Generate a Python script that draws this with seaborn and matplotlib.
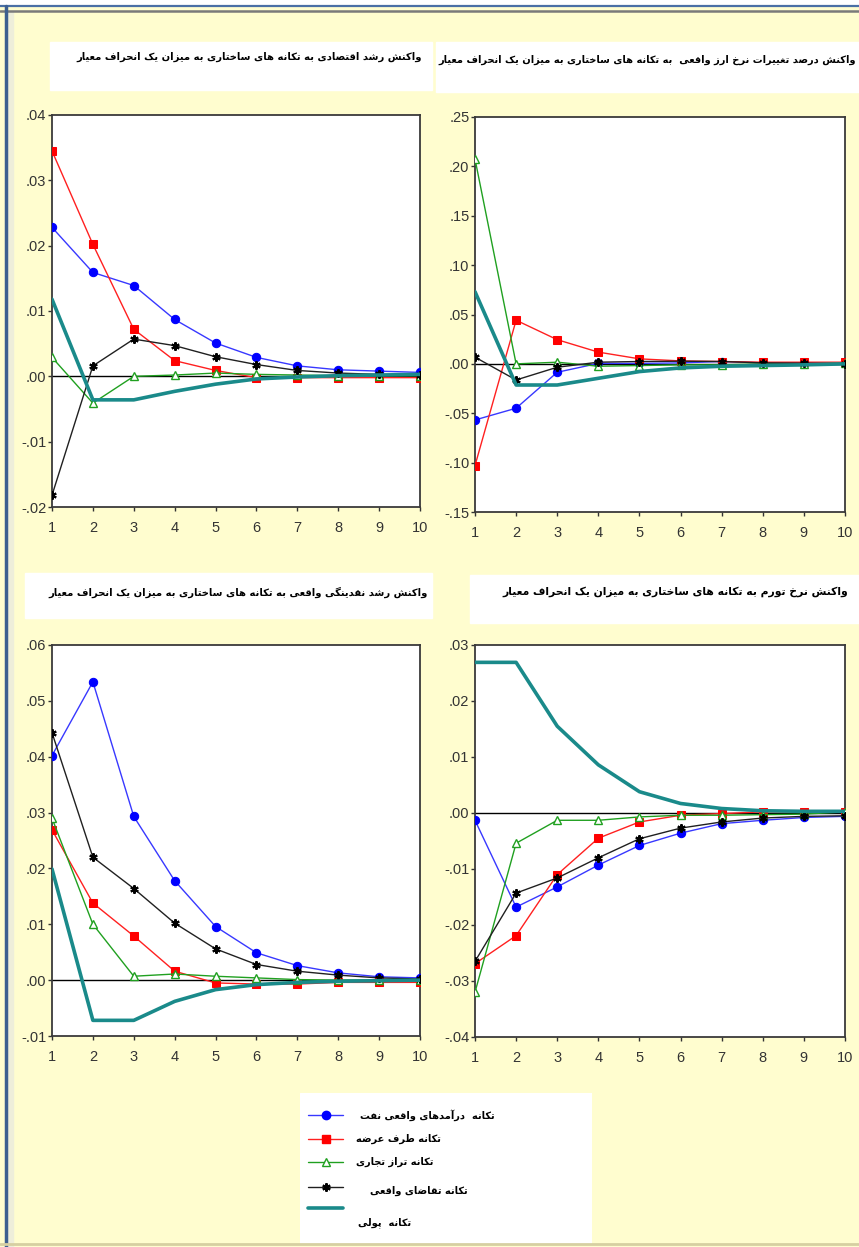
import matplotlib
matplotlib.use("Agg")
import matplotlib.pyplot as plt
import seaborn as sns
from matplotlib.lines import Line2D
from matplotlib.patches import Rectangle
from matplotlib.ticker import FuncFormatter

# ---- data ----
periods = list(range(1, 11))

shock_labels = ["تکانه  درآمدهای واقعی نفت", "تکانه طرف عرضه", "تکانه تراز تجاری",
                "تکانه تقاضای واقعی", "تکانه  پولی"]

title_growth = "واکنش رشد اقتصادی به تکانه های ساختاری به میزان یک انحراف معیار"
title_fx = "واکنش درصد تغییرات نرخ ارز واقعی  به تکانه های ساختاری به میزان یک انحراف معیار"
title_money = "واکنش رشد نقدینگی واقعی به تکانه های ساختاری به میزان یک انحراف معیار"
title_infl = "واکنش نرخ تورم به تکانه های ساختاری به میزان یک انحراف معیار"

# economic growth
growth_oil = [0.0228, 0.0159, 0.0139, 0.0087, 0.0051, 0.0029, 0.0016, 0.0010, 0.0008, 0.0006]
growth_supply = [0.0345, 0.0202, 0.0072, 0.0024, 0.0009, -0.0002, -0.0002, -0.0002, -0.0002, -0.0002]
growth_trade = [0.0029, -0.0041, 0.0000, 0.0002, 0.0005, 0.0003, 0.0002, 0.0001, 0.0001, 0.0001]
growth_demand = [-0.0182, 0.0016, 0.0057, 0.0047, 0.0030, 0.0018, 0.0009, 0.0005, 0.0003, 0.0002]
growth_money = [0.0118, -0.0036, -0.0036, -0.0023, -0.0012, -0.0004, -0.0001, 0.0001, 0.0002, 0.0003]

# real exchange rate change
fx_oil = [-0.0568, -0.0449, -0.0085, 0.0005, 0.0005, 0.0010, 0.0024, 0.0010, 0.0010, 0.0010]
fx_supply = [-0.1030, 0.0442, 0.0245, 0.0119, 0.0051, 0.0030, 0.0024, 0.0017, 0.0017, 0.0017]
fx_trade = [0.2075, 0.0000, 0.0017, -0.0024, -0.0017, -0.0010, -0.0010, 0.0000, 0.0000, 0.0007]
fx_demand = [0.0068, -0.0163, -0.0034, 0.0017, 0.0024, 0.0027, 0.0024, 0.0010, 0.0007, 0.0000]
fx_money = [0.0731, -0.0214, -0.0214, -0.0146, -0.0078, -0.0041, -0.0024, -0.0017, -0.0010, 0.0000]

# real liquidity growth
money_oil = [0.0402, 0.0534, 0.0293, 0.0178, 0.0096, 0.0049, 0.0026, 0.0013, 0.0006, 0.0004]
money_supply = [0.0269, 0.0138, 0.0079, 0.0016, -0.0005, -0.0007, -0.0007, -0.0004, -0.0004, -0.0004]
money_trade = [0.0290, 0.0100, 0.0007, 0.0011, 0.0007, 0.0004, 0.0001, 0.0000, 0.0000, 0.0000]
money_demand = [0.0443, 0.0220, 0.0164, 0.0102, 0.0056, 0.0028, 0.0016, 0.0009, 0.0004, 0.0002]
money_money = [0.0199, -0.0072, -0.0072, -0.0038, -0.0017, -0.0008, -0.0004, -0.0002, -0.0001, 0.0000]

# inflation
infl_oil = [-0.0013, -0.0168, -0.0132, -0.0093, -0.0058, -0.0036, -0.0019, -0.0013, -0.0008, -0.0006]
infl_supply = [-0.0269, -0.0219, -0.0110, -0.0045, -0.0016, -0.0004, -0.0001, 0.0002, 0.0002, 0.0002]
infl_trade = [-0.0320, -0.0054, -0.0013, -0.0013, -0.0007, -0.0004, -0.0004, -0.0003, -0.0002, 0.0002]
infl_demand = [-0.0265, -0.0143, -0.0116, -0.0080, -0.0046, -0.0027, -0.0016, -0.0009, -0.0006, -0.0005]
infl_money = [0.0269, 0.0269, 0.0155, 0.0086, 0.0038, 0.0017, 0.0008, 0.0004, 0.0003, 0.0003]

growth_ticks = [-0.02, -0.01, 0.0, 0.01, 0.02, 0.03, 0.04]
fx_ticks = [-0.15, -0.10, -0.05, 0.0, 0.05, 0.10, 0.15, 0.20, 0.25]
money_ticks = [-0.01, 0.0, 0.01, 0.02, 0.03, 0.04, 0.05, 0.06]
infl_ticks = [-0.04, -0.03, -0.02, -0.01, 0.0, 0.01, 0.02, 0.03]

# ---- minimal Persian shaping (matplotlib draws no joined RTL text by itself) ----
DUAL = {'ب': 0xFE8F, 'ت': 0xFE95, 'ث': 0xFE99, 'ج': 0xFE9D, 'ح': 0xFEA1, 'خ': 0xFEA5,
        'س': 0xFEB1, 'ش': 0xFEB5, 'ص': 0xFEB9, 'ض': 0xFEBD, 'ط': 0xFEC1, 'ظ': 0xFEC5,
        'ع': 0xFEC9, 'غ': 0xFECD, 'ف': 0xFED1, 'ق': 0xFED5, 'ل': 0xFEDD, 'م': 0xFEE1,
        'ن': 0xFEE5, 'ه': 0xFEE9, 'ي': 0xFEF1, 'ك': 0xFED9,
        'پ': 0xFB56, 'چ': 0xFB7A, 'ک': 0xFB8E, 'گ': 0xFB92, 'ی': 0xFBFC}
RIGHT = {'ا': 0xFE8D, 'آ': 0xFE81, 'د': 0xFEA9, 'ذ': 0xFEAB, 'ر': 0xFEAD, 'ز': 0xFEAF,
         'و': 0xFEED, 'ژ': 0xFB8A}


def fa(text):
    out = []
    for i, ch in enumerate(text):
        base = DUAL.get(ch, RIGHT.get(ch))
        if base is None:
            out.append(ch)
            continue
        prev = text[i - 1] if i > 0 else ''
        nxt = text[i + 1] if i < len(text) - 1 else ''
        jp = prev in DUAL
        jn = ch in DUAL and (nxt in DUAL or nxt in RIGHT)
        off = 3 if (jp and jn) else 1 if jp else 2 if jn else 0
        out.append(chr(base + off))
    return ''.join(reversed(out))


# ---- figure ----
W, H = 859, 1247
sns.set_style("ticks")
plt.rcParams['font.family'] = ['Liberation Sans', 'DejaVu Sans']
fig = plt.figure(figsize=(W / 100, H / 100), dpi=100)
fig.patch.set_facecolor('#FFFDCF')
renderer = fig.canvas.get_renderer()


def px_rect(x0, y0, x1, y1):
    return [x0 / W, 1 - y1 / H, (x1 - x0) / W, (y1 - y0) / H]


# window frame
fig.patches.append(Rectangle((0, 1 - 5 / H), 1, 5 / H, transform=fig.transFigure, color='white', zorder=0))
fig.lines.append(Line2D([0, 1], [1 - 6 / H, 1 - 6 / H], transform=fig.transFigure, color='#4A6FA5', lw=1.6))
fig.lines.append(Line2D([0, 1], [1 - 11 / H, 1 - 11 / H], transform=fig.transFigure, color='#7A7A7A', lw=1.8))
fig.patches.append(Rectangle((8 / W, 0), 5 / W, 1 - 12 / H, transform=fig.transFigure, color='#EEEEDA', zorder=0))
fig.lines.append(Line2D([6 / W, 6 / W], [0, 1 - 6 / H], transform=fig.transFigure, color='#3D5F8F', lw=2.5))
fig.lines.append(Line2D([0, 1], [1 - 1244 / H, 1 - 1244 / H], transform=fig.transFigure, color='#D6CFA2', lw=2))

styles = [
    dict(color='#3838FF', marker='o', ms=6, mfc='#0000FF', mec='#0000FF', lw=1.0),
    dict(color='#FF2020', marker='s', ms=6, mfc='#FF0000', mec='#FF0000', lw=1.0),
    dict(color='#20A020', marker='^', ms=6, mfc='white', mec='#20A020', mew=1.0, lw=1.0),
    dict(color='#202020', marker=(6, 2, 0), ms=6, mec='#000000', mew=1.5, lw=1.0),
    dict(color='#1A8A8A', marker=None, lw=2.6),
]

tick_fmt = FuncFormatter(lambda v, p: f"{v:.2f}".replace("0.", ".", 1))

panels = [
    ((52, 115, 420, 507), [growth_oil, growth_supply, growth_trade, growth_demand, growth_money], growth_ticks),
    ((475, 117, 845, 512), [fx_oil, fx_supply, fx_trade, fx_demand, fx_money], fx_ticks),
    ((52, 645, 420, 1036), [money_oil, money_supply, money_trade, money_demand, money_money], money_ticks),
    ((475, 645, 845, 1037), [infl_oil, infl_supply, infl_trade, infl_demand, infl_money], infl_ticks),
]

for (x0, y0, x1, y1), series, ticks in panels:
    ax = fig.add_axes(px_rect(x0, y0, x1, y1))
    ax.set_facecolor('white')
    ax.axhline(0, color='black', lw=1.0, zorder=1)
    for vals, st in zip(series, styles):
        sns.lineplot(x=periods, y=vals, ax=ax, zorder=3, **st)
    ax.set_xlim(1, 10)
    ax.set_ylim(ticks[0], ticks[-1])
    ax.set_xticks(periods)
    ax.set_yticks(ticks)
    ax.yaxis.set_major_formatter(tick_fmt)
    ax.tick_params(axis='y', direction='out', length=3, width=1, pad=1, labelsize=10.5, colors='#333333')
    ax.tick_params(axis='x', direction='out', length=3, width=1, pad=7, labelsize=10.5, colors='#333333')
    for s in ax.spines.values():
        s.set_color('#3A3A3A')
        s.set_linewidth(1.3)
    ax.set_xlabel('')
    ax.set_ylabel('')

# title boxes and titles (right aligned, fitted to the reference width)
title_boxes = [(50, 42, 432, 90), (436, 42, 859, 92), (25, 573, 432, 618), (470, 575, 859, 623)]
title_text = [(title_growth, 422, 57, 347), (title_fx, 856, 60, 420),
              (title_money, 428, 592, 378), (title_infl, 848, 592, 346)]
for (bx0, by0, bx1, by1), (txt, xr, ym, wd) in zip(title_boxes, title_text):
    fig.patches.append(Rectangle((bx0 / W, 1 - by1 / H), (bx1 - bx0) / W, (by1 - by0) / H,
                                 transform=fig.transFigure, color='white', zorder=0))
    t = fig.text(xr / W, 1 - ym / H, fa(txt), ha='right', va='center', fontsize=10,
                 fontweight='bold', family=['DejaVu Sans'], color='black')
    w = t.get_window_extent(renderer).width
    t.set_fontsize(10 * wd / w)

# legend box
lax = fig.add_axes(px_rect(300, 1093, 592, 1245))
lax.set_facecolor('white')
lax.set_xlim(300, 592)
lax.set_ylim(1245, 1093)
lax.axis('off')
lax.add_patch(Rectangle((300, 1093), 292, 152, color='white', zorder=0))
line_y = [1115, 1139, 1162, 1187, 1208]
text_pos = [(360, 1115), (356, 1139), (356, 1162), (370, 1191), (358, 1223)]
size = None
for lab, st, ly, (tx, ty) in zip(shock_labels, styles, line_y, text_pos):
    base = {k: v for k, v in st.items() if k in ('color', 'lw')}
    lax.plot([308, 343], [ly, ly], **base)
    if st['marker'] is not None:
        mk = {k: v for k, v in st.items() if k not in ('color', 'lw')}
        lax.plot([325.5], [ly], color=st['color'], ls='none', **mk)
    t = lax.text(tx, ty, fa(lab), ha='left', va='center', fontsize=10, fontweight='bold',
                 family=['DejaVu Sans'], color='black')
    if size is None:
        size = 10 * 135 / t.get_window_extent(renderer).width
    t.set_fontsize(size)

fig.savefig('out.png', dpi=100, facecolor=fig.get_facecolor())
